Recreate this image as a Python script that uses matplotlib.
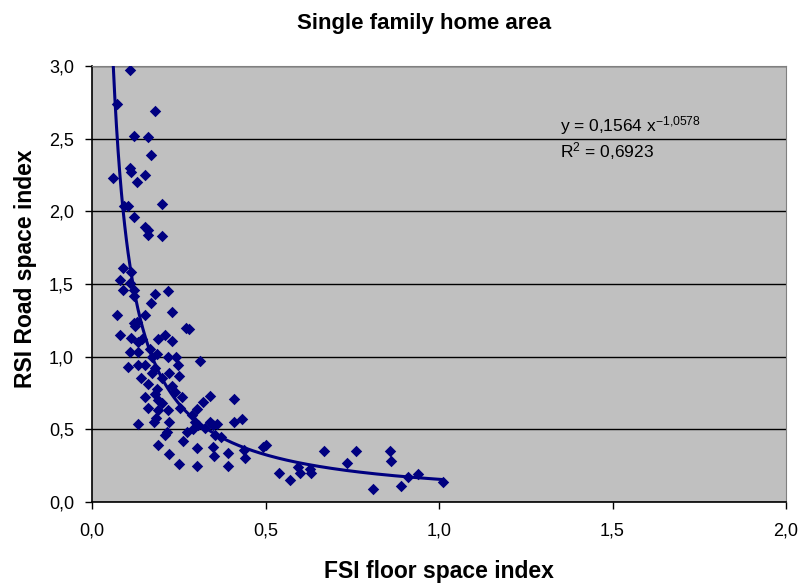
import numpy as np
import matplotlib
matplotlib.use("Agg")
import matplotlib.pyplot as plt
from matplotlib.ticker import FuncFormatter

plt.rcParams['font.family'] = ['Liberation Sans', 'DejaVu Sans']
plt.rcParams['mathtext.fontset'] = 'custom'
plt.rcParams['mathtext.rm'] = 'Liberation Sans'
plt.rcParams['mathtext.it'] = 'Liberation Sans'

# FSI (floor space index) and RSI (road space index) per area
fsi = [0.110, 0.071, 0.182, 0.121, 0.161, 0.170, 0.110, 0.112, 0.153, 0.061,
       0.131, 0.093, 0.105, 0.202, 0.121, 0.153, 0.162, 0.161, 0.202, 0.090,
       0.112, 0.081, 0.110, 0.090, 0.121, 0.122, 0.182, 0.220, 0.170, 0.231,
       0.071, 0.153, 0.121, 0.129, 0.124, 0.271, 0.280, 0.081, 0.112, 0.143,
       0.133, 0.210, 0.191, 0.231, 0.110, 0.133, 0.167, 0.186, 0.172, 0.220,
       0.242, 0.311, 0.103, 0.133, 0.153, 0.182, 0.223, 0.247, 0.252, 0.141,
       0.172, 0.201, 0.162, 0.186, 0.230, 0.239, 0.153, 0.182, 0.191, 0.201,
       0.258, 0.340, 0.321, 0.162, 0.191, 0.220, 0.254, 0.302, 0.287, 0.184,
       0.179, 0.223, 0.132, 0.297, 0.306, 0.340, 0.350, 0.217, 0.210, 0.273,
       0.292, 0.326, 0.354, 0.261, 0.191, 0.302, 0.350, 0.352, 0.222, 0.251,
       0.302, 0.410, 0.359, 0.410, 0.431, 0.372, 0.391, 0.391, 0.439, 0.441,
       0.494, 0.501, 0.540, 0.571, 0.595, 0.599, 0.628, 0.630, 0.669, 0.734,
       0.761, 0.859, 0.861, 0.811, 0.890, 0.910, 0.940, 1.011]
rsi = [2.97, 2.74, 2.69, 2.52, 2.51, 2.39, 2.30, 2.27, 2.25, 2.23,
       2.20, 2.04, 2.04, 2.05, 1.96, 1.89, 1.87, 1.84, 1.83, 1.61,
       1.58, 1.53, 1.51, 1.46, 1.46, 1.42, 1.43, 1.45, 1.37, 1.31,
       1.29, 1.29, 1.23, 1.24, 1.21, 1.20, 1.19, 1.15, 1.13, 1.12,
       1.10, 1.15, 1.12, 1.11, 1.03, 1.03, 1.05, 1.02, 1.00, 1.00,
       1.00, 0.97, 0.93, 0.94, 0.94, 0.92, 0.89, 0.94, 0.87, 0.85,
       0.89, 0.85, 0.81, 0.78, 0.80, 0.76, 0.72, 0.74, 0.70, 0.68,
       0.72, 0.73, 0.69, 0.65, 0.63, 0.63, 0.65, 0.64, 0.60, 0.58,
       0.55, 0.55, 0.54, 0.55, 0.53, 0.55, 0.53, 0.48, 0.46, 0.48,
       0.50, 0.51, 0.46, 0.42, 0.39, 0.37, 0.38, 0.32, 0.33, 0.26,
       0.25, 0.71, 0.54, 0.55, 0.57, 0.45, 0.34, 0.25, 0.36, 0.30,
       0.38, 0.39, 0.20, 0.15, 0.24, 0.20, 0.23, 0.20, 0.35, 0.27,
       0.35, 0.35, 0.28, 0.09, 0.11, 0.17, 0.19, 0.14]

# power trend line y = a * x^b
coef_a = 0.1564
coef_b = -1.0578
r2 = 0.6923

navy = '#000080'

fig = plt.figure(figsize=(8.05, 5.83), dpi=100)
ax = fig.add_axes([0.1143, 0.1389, 0.8621, 0.7479])
ax.set_facecolor('#C0C0C0')

ax.scatter(fsi, rsi, marker='D', s=34, color=navy, linewidths=0, zorder=3)

xs = np.linspace(min(fsi), max(fsi), 400)
ax.plot(xs, coef_a * xs ** coef_b, color=navy, lw=2.2, zorder=4)

ax.set_xlim(0, 2.0)
ax.set_ylim(0, 3.0)
ax.set_xticks(np.arange(0, 2.01, 0.5))
ax.set_yticks(np.arange(0, 3.01, 0.5))
comma = FuncFormatter(lambda v, p: f"{v:.1f}".replace('.', ','))
ax.xaxis.set_major_formatter(comma)
ax.yaxis.set_major_formatter(comma)
ax.tick_params(labelsize=13, length=5, width=1, color='black')
ax.tick_params(axis='x', pad=10)
ax.tick_params(axis='y', pad=8)
ax.grid(axis='y', color='black', lw=1)
ax.set_axisbelow(True)
for s in ['top', 'right']:
    ax.spines[s].set_color('#808080')
for s in ['left', 'bottom']:
    ax.spines[s].set_color('black')
    ax.spines[s].set_linewidth(1.2)

fig.text(0.527, 0.950, 'Single family home area', fontsize=16, fontweight='bold',
         ha='center', va='baseline')
ax.set_xlabel('FSI floor space index', fontsize=16.5, fontweight='bold', va='baseline')
ax.xaxis.set_label_coords(0.5, -0.174)
ax.set_ylabel('RSI Road space index', fontsize=16.5, fontweight='bold', va='center')
ax.yaxis.set_label_coords(-0.096, 0.535)

eq = 'y = ' + f"{coef_a}".replace('.', ',') + r' x$^{-' + f"{-coef_b}".replace('.', '{,}') + '}$'
ax.text(1.349, 2.55, eq, fontsize=12.5, color='black', va='baseline')
ax.text(1.349, 2.37, r'R$^{2}$ = ' + f"{r2}".replace('.', ','), fontsize=12.5,
        color='black', va='baseline')

fig.savefig('out.png', dpi=100, facecolor='white')
